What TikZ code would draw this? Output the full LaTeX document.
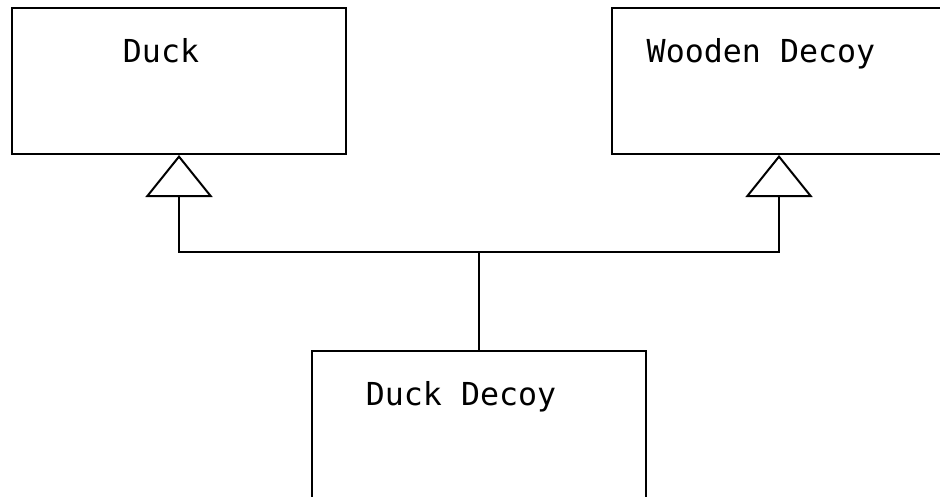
\documentclass[tikz,border=0pt]{standalone}
\usepackage{fontspec}
\setmonofont{DejaVu Sans Mono}
\usetikzlibrary{arrows.meta, positioning}

\begin{document}
\begin{tikzpicture}[line width=0.04cm, font=\ttfamily\fontsize{18}{20}\selectfont,
	classbox/.style={draw, minimum width=6.68cm, minimum height=2.92cm},
	classname/.style={anchor=base, xshift=-0.36cm, yshift=-1.1cm, inner sep=0pt},
	inherit/.style={-{Triangle[open, length=0.84cm, width=1.34cm]}}]
	\useasboundingbox (0,0) rectangle (18.8,-9.92);
	\node[classbox, label={[classname]north:Duck}] (duck) at (3.58,-1.62) {};
	\node[classbox, label={[classname]north:Wooden Decoy}] (wooden) at (15.58,-1.62) {};
	\node[classbox, minimum height=3.2cm, label={[classname]north:Duck Decoy}] (duckdecoy) at (9.58,-8.62) {};
	\coordinate[above=1.96cm of duckdecoy.north] (split);
	\draw (duckdecoy.north) -- (split);
	\draw[inherit] (split) -| (duck.south);
	\draw[inherit] (split) -| (wooden.south);
\end{tikzpicture}
\end{document}
